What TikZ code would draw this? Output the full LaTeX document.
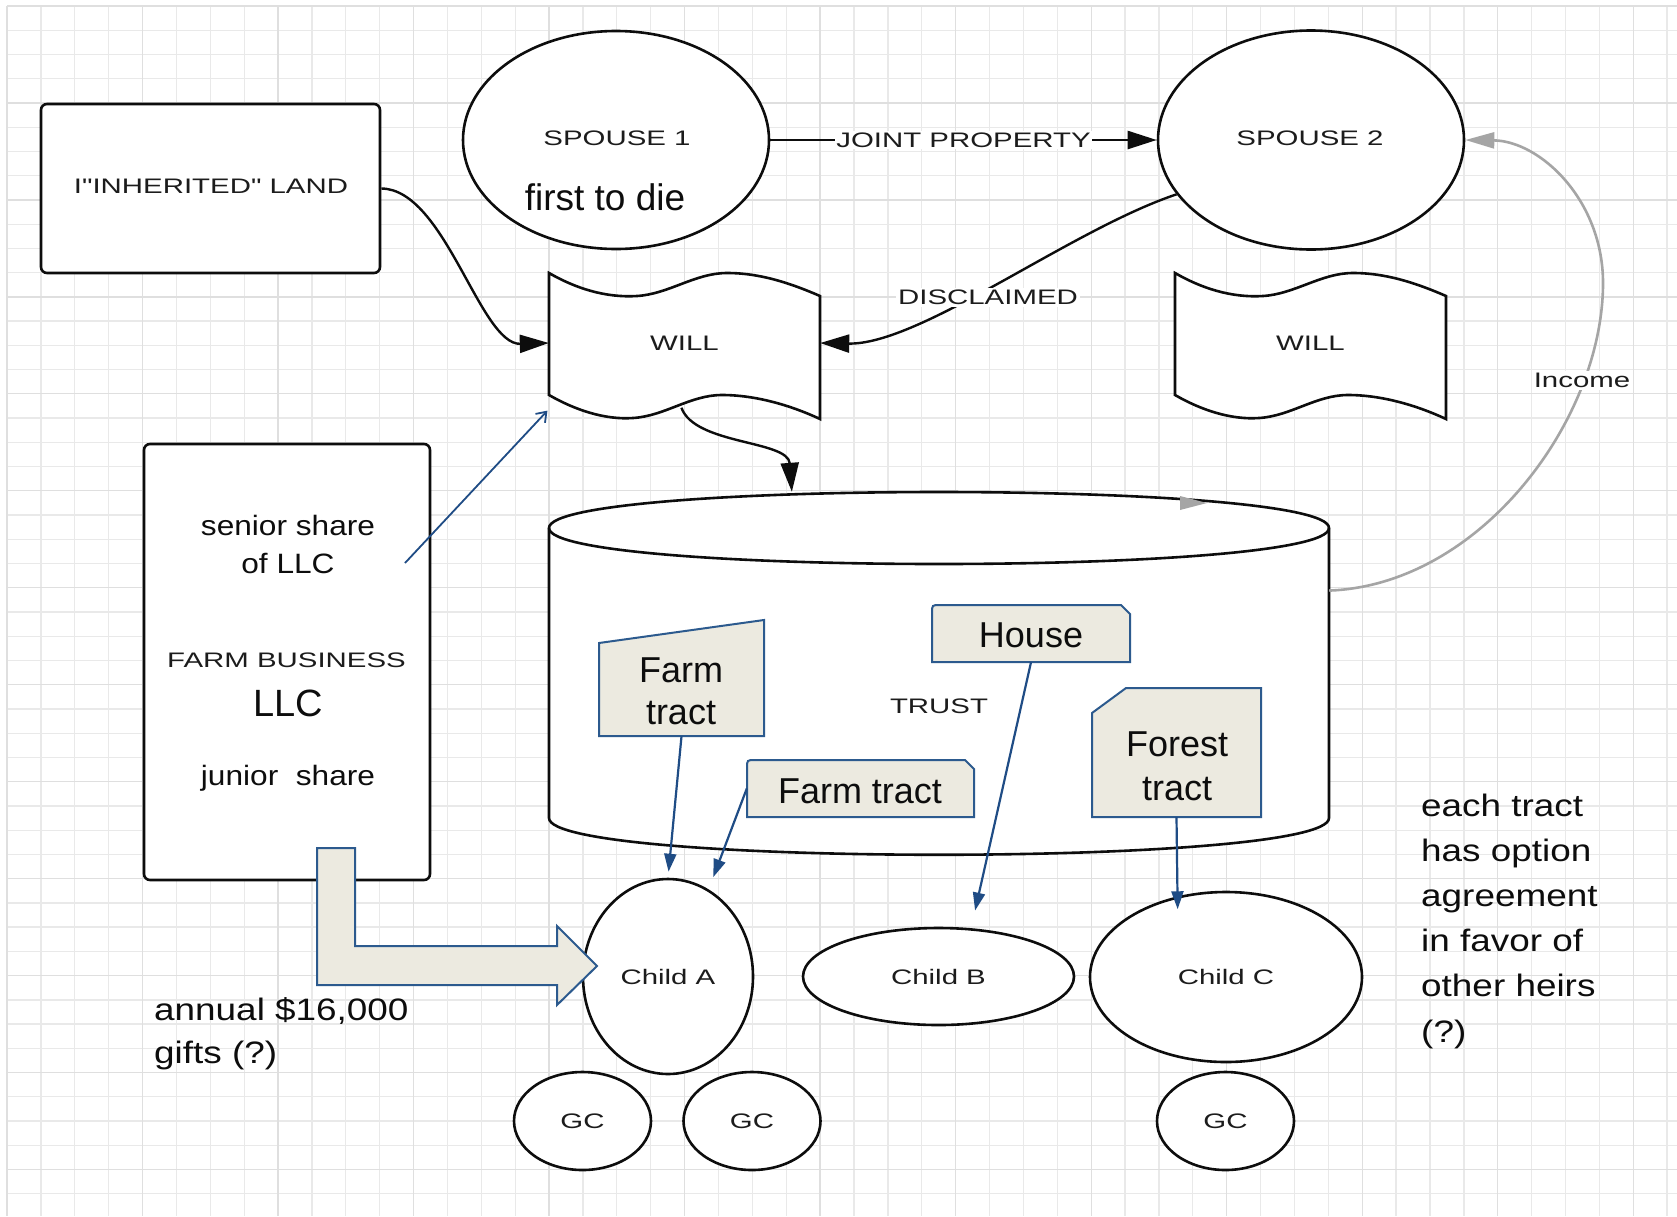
\documentclass[tikz,border=0pt]{standalone}
\usepackage{fontspec}
\setmainfont{Liberation Sans}
\newfontfamily\lucid[FakeStretch=1.40]{Liberation Sans}
\newfontfamily\wideA[FakeStretch=1.13]{Liberation Sans}
\newfontfamily\wideB[FakeStretch=1.19]{Liberation Sans}
\usetikzlibrary{arrows.meta,shapes.geometric}

\definecolor{gridminor}{HTML}{E9E9E9}
\definecolor{gridmajor}{HTML}{DFDFDF}
\definecolor{beige}{HTML}{ECEAE0}
\definecolor{tractblue}{HTML}{2C5A8E}
\definecolor{arrowblue}{HTML}{1F4C85}
\definecolor{incomegray}{HTML}{A5A5A5}
\definecolor{ink}{HTML}{0D0D0D}
\definecolor{labelgray}{HTML}{1C1C1C}

\tikzset{
  shapeline/.style={draw=ink, line width=2.6pt, fill=white},
  roundbox/.style={shapeline, rectangle, rounded corners=6pt, inner sep=0pt},
  oval/.style={shapeline, ellipse, inner sep=0pt},
  lucidtext/.style={font=\lucid\fontsize{21}{25}\selectfont, text=labelgray, inner sep=0pt},
  tracttext/.style={font=\fontsize{36}{42}\selectfont, text=ink, inner sep=0pt, anchor=base},
  notetext/.style={font=\wideB\fontsize{31}{40}\selectfont, text=ink, inner sep=0pt, anchor=base west},
  sharetext/.style={font=\wideA\fontsize{28}{34}\selectfont, text=ink, inner sep=0pt, anchor=base},
  tractshape/.style={draw=tractblue, line width=2pt, fill=beige},
  flow/.style={draw=ink, line width=2.4pt, -{Triangle[length=29pt,width=18pt]}},
  assign/.style={draw=arrowblue, line width=2.2pt, -{Triangle[length=18pt,width=12pt]}},
  income/.style={draw=incomegray, line width=2.6pt, -{Triangle[length=29pt,width=16pt]}},
  ghost/.style={inner sep=0pt, draw=none, fill=none},
  onlabel/.style={lucidtext, fill=white, inner sep=2pt},
  willsheet/.pic={
    \path[shapeline] (0,0) .. controls (26,15) and (56,25) .. (88,23)
      .. controls (120,21) and (146,0) .. (178,0)
      .. controls (211,0) and (241,10) .. (271,23)
      -- (271,146) .. controls (241,132) and (206,122) .. (173,122)
      .. controls (141,122) and (116,143) .. (84,145)
      .. controls (56,147) and (26,137) .. (0,122) -- cycle;
  }
}

\begin{document}
\begin{tikzpicture}[x=1pt,y=-1pt]
\useasboundingbox (0,0) rectangle (1677,1216);
\fill[white] (0,0) rectangle (1677,1216);

% squared paper
\foreach \k in {0,...,49} {
  \pgfmathsetmacro{\gx}{7+33.88*\k}
  \draw[gridminor, line width=1.3pt] (\gx,6) -- (\gx,1216);
}
\foreach \k in {0,...,49} {
  \pgfmathsetmacro{\gy}{6+24.24*\k}
  \draw[gridminor, line width=1.3pt] (7,\gy) -- (1677,\gy);
}
\foreach \k in {0,4,...,48} {
  \pgfmathsetmacro{\gx}{7+33.88*\k}
  \draw[gridmajor, line width=1.3pt] (\gx,6) -- (\gx,1216);
}
\foreach \k in {0,4,...,48} {
  \pgfmathsetmacro{\gy}{6+24.24*\k}
  \draw[gridmajor, line width=1.3pt] (7,\gy) -- (1677,\gy);
}

% inherited land
\node[roundbox, minimum width=339pt, minimum height=169pt] (land) at (210.5,188.5) {};
\node[lucidtext] (landtext) at (211,186) {I"INHERITED" LAND};

% the spouses
\node[oval, minimum width=306pt, minimum height=218pt] (sp1) at (616,140) {};
\node[lucidtext] (sp1name) at (617,138) {SPOUSE 1};
\node[font=\fontsize{37}{44}\selectfont, text=ink, inner sep=0pt, anchor=base] (sp1note) at (605,210) {first to die};
\node[oval, minimum width=306pt, minimum height=219pt] (sp2) at (1311,140) {};
\node[lucidtext] (sp2name) at (1310,138) {SPOUSE 2};

% the wills
\pic at (549,273) {willsheet};
\node[ghost, lucidtext, minimum width=271pt, minimum height=146pt] (will1) at (684.5,343) {WILL};
\pic at (1175,273) {willsheet};
\node[ghost, lucidtext, minimum width=271pt, minimum height=146pt] (will2) at (1310.5,343) {WILL};

% trust cylinder
\path[shapeline] (549,528) -- (549,818) .. controls (549,867) and (1329,867) .. (1329,818)
  -- (1329,528) .. controls (1329,480) and (549,480) .. (549,528) -- cycle;
\draw[ink, line width=2.6pt] (549,528) .. controls (549,576) and (1329,576) .. (1329,528);
\node[ghost, minimum width=780pt, minimum height=363pt] (trust) at (939,673.5) {};
\node[lucidtext] (trusttext) at (939,706.5) {TRUST};
\fill[incomegray] (1180,496) -- (1207,503) -- (1180,510) -- cycle;

% farm business LLC
\node[roundbox, minimum width=286pt, minimum height=436pt] (llc) at (287,662) {};
\node[sharetext] (senior) at (288,535) {senior share};
\node[sharetext] (ofllc) at (288,573) {of LLC};
\node[lucidtext] (farmbiz) at (286.5,660) {FARM BUSINESS};
\node[font=\fontsize{38}{44}\selectfont, text=ink, inner sep=0pt] (llcname) at (288.5,703.5) {LLC};
\node[sharetext] (junior) at (288,785) {junior\ \ share};

% tracts held in trust
\path[tractshape] (599,643) -- (764,620) -- (764,736) -- (599,736) -- cycle;
\node[ghost, minimum width=165pt, minimum height=116pt] (farmA) at (681.5,678) {};
\node[tracttext] (farmAone) at (681,682) {Farm};
\node[tracttext] (farmAtwo) at (681,724) {tract};

\path[tractshape] (932,662) -- (932,613) .. controls (932,605) .. (940,605) -- (1121,605)
  -- (1130,614) -- (1130,662) -- cycle;
\node[ghost, minimum width=198pt, minimum height=57pt] (house) at (1031,633.5) {};
\node[tracttext] (houselabel) at (1031,647) {House};

\path[tractshape] (747,817) -- (747,768) .. controls (747,760) .. (755,760) -- (965,760)
  -- (974,769) -- (974,817) -- cycle;
\node[ghost, minimum width=227pt, minimum height=57pt] (farmB) at (860.5,788.5) {};
\node[tracttext] (farmBlabel) at (860,803) {Farm tract};

\path[tractshape] (1092,713) -- (1126,688) -- (1261,688) -- (1261,817) -- (1092,817) -- cycle;
\node[ghost, minimum width=169pt, minimum height=129pt] (forest) at (1176.5,752.5) {};
\node[tracttext] (forestone) at (1177,756) {Forest};
\node[tracttext] (foresttwo) at (1177,800) {tract};

% heirs
\node[oval, lucidtext, minimum width=170pt, minimum height=195pt] (childA) at (668,976.5) {Child A};
\node[oval, lucidtext, minimum width=271pt, minimum height=97pt] (childB) at (938.5,976.5) {Child B};
\node[oval, lucidtext, minimum width=272pt, minimum height=170pt] (childC) at (1226,977) {Child C};
\node[oval, lucidtext, minimum width=137pt, minimum height=98pt] (gc1) at (582.5,1121) {GC};
\node[oval, lucidtext, minimum width=137pt, minimum height=98pt] (gc2) at (752,1121) {GC};
\node[oval, lucidtext, minimum width=137pt, minimum height=98pt] (gc3) at (1225.5,1121) {GC};

% annual gifts block arrow
\path[tractshape] (317,848) -- (355,848) -- (355,946) -- (557,946) -- (557,926) -- (597,966)
  -- (557,1005) -- (557,985) -- (317,985) -- cycle;

% connectors
\draw[flow] (land.east) .. controls (445,189) and (480,345) .. (will1.west);
\draw[flow] (sp1.east) -- (sp2.west) node[onlabel, midway, inner sep=1.5pt] (jointlabel) {JOINT PROPERTY};
\draw[flow] (sp2.202) .. controls (1070,230) and (920,345) .. (will1.east);
\node[onlabel] (disclabel) at (988,297.5) {DISCLAIMED};
\draw[flow, shorten <=-9pt] (will1.south) .. controls (695,445) and (788,440) .. (trust.129.8);
\draw[income] (trust.12.5) .. controls (1480,585) and (1603,420) .. (1603,283)
  .. controls (1603,200) and (1540,141) .. (sp2.east);
\node[onlabel] (incomelabel) at (1582,380.5) {Income};

\coordinate (shareout) at (405,563);
\draw[arrowblue, line width=1.8pt, -{Straight Barb[length=9pt,width=13pt]}, shorten >=2pt] (shareout) -- (will1.206);

\draw[assign, shorten >=6pt] (farmA.south) -- (childA.north);
\draw[assign, shorten >=13pt] (farmB.west) -- (childA.65);
\draw[assign, shorten >=18pt] (house.south) -- (childB.56);
\draw[assign, shorten >=-13pt] (forest.south) -- (childC.121.7);

% side notes
\node[notetext] (giftone) at (154,1020) {annual \$16,000};
\node[notetext] (gifttwo) at (154,1063) {gifts (?)};
\foreach \txt [count=\i] in {each tract, has option, agreement, in favor of, other heirs, (?)} {
  \node[notetext] (note\i) at (1421,{816+45.2*(\i-1)}) {\txt};
}
\end{tikzpicture}
\end{document}
